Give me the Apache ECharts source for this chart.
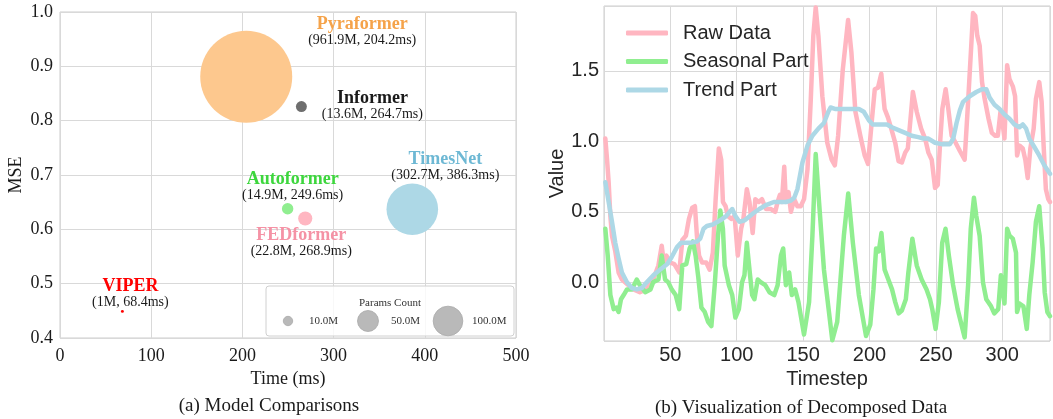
<!DOCTYPE html>
<html><head><meta charset="utf-8">
<script src="https://cdn.jsdelivr.net/npm/echarts@6/dist/echarts.min.js"></script>
<style>html,body{margin:0;padding:0;background:#fff}#c{width:1053px;height:419px}</style>
</head><body><div id="c"></div>
<script>
// ---------- Left panel data ----------
const models   = ['Pyraformer','Informer','TimesNet','Autoformer','FEDformer','VIPER'];
const timeMs   = [204.2, 264.7, 386.3, 249.6, 268.9, 68.4];
const mseVals  = [0.881, 0.826, 0.637, 0.638, 0.620, 0.449];
const paramsM  = [961.9, 13.6, 302.7, 14.9, 22.8, 1];
const legendParams = [10, 50, 100];
const xTicksLeft = [0, 100, 200, 300, 400, 500];

// ---------- Right panel data ([timestep, value]) ----------
const rawData = [[1,1.02],[2.3,0.87],[3.5,0.71],[4.8,0.47],[6,0.33],[8.5,0.22],[11,0.07],[13.5,0.02],[18.5,-0.02],[22.3,-0.05],[27,-0.07],[32,-0.05],[37,0.02],[41,0.12],[43.5,0.26],[45,0.14],[47,0.19],[50,0.14],[53,0.13],[56.7,0.07],[59,0.30],[61.7,0.33],[64,0.45],[66.5,0.53],[68.5,0.54],[70,0.33],[71.6,0.19],[74,0.14],[77,0.14],[79.6,0.09],[82,0.21],[84,0.57],[86.5,0.95],[88.3,0.87],[89.6,0.57],[91.6,0.54],[93.3,0.47],[95.8,0.45],[98.4,0.47],[100.8,0.19],[103.3,0.38],[105,0.45],[107.6,0.66],[109.6,0.57],[112,0.35],[114,0.59],[116.6,0.57],[119,0.59],[122,0.52],[125.8,0.52],[129,0.50],[130.8,0.57],[132.5,0.62],[134,0.57],[135.8,0.82],[137,0.57],[139,0.64],[140.8,0.50],[143.3,0.59],[145.7,0.54],[148.2,0.54],[150.7,0.59],[153.3,0.80],[155.7,1.28],[157.7,1.75],[159.5,1.95],[161.5,1.75],[164.5,1.32],[168.2,0.99],[171.5,0.87],[173.9,0.83],[176.4,1.04],[179.9,1.51],[183.9,1.86],[186.4,1.63],[189.4,1.21],[193.1,1.04],[196.4,0.90],[198.9,0.84],[201.9,1.16],[204,1.37],[206.4,1.38],[208.9,1.48],[211.4,1.23],[213.9,1.17],[216.4,1.09],[219.4,0.99],[221.9,0.86],[224.4,0.85],[226.9,0.92],[228.9,0.95],[231.4,1.21],[232.7,1.35],[235.6,1.21],[238.9,1.09],[241.9,1.02],[244.4,0.92],[246.9,0.87],[249.4,0.67],[251.4,0.69],[253.2,0.99],[254.9,1.23],[257.4,1.37],[259.4,1.23],[261.9,1.04],[264.9,0.99],[268.2,0.93],[271.7,0.87],[274.3,1.28],[276.8,1.70],[278,1.91],[279.7,1.89],[281.2,1.75],[283,1.68],[284.8,1.42],[286.8,1.30],[289.7,1.16],[292.2,1.06],[294.7,1.04],[296.7,1.04],[298.7,1.21],[300.5,1.11],[301.7,1.02],[303.7,1.54],[305.5,1.44],[308,1.39],[309.7,1.32],[311.2,0.90],[313,0.97],[315.5,0.95],[317.4,0.87],[319.2,0.74],[321.2,0.95],[323.7,1.09],[325.4,1.30],[327.9,1.42],[329.7,1.28],[331.2,0.97],[332.9,0.66],[334.7,0.59],[336,0.57]];
const seasonalData = [[1,0.38],[2.8,0.19],[4.8,-0.09],[7.3,-0.19],[9.3,-0.18],[11,-0.21],[12.8,-0.12],[14.8,-0.09],[17.3,-0.05],[21,-0.05],[24.7,0.02],[27,-0.02],[31,-0.07],[35,-0.05],[37,0.0],[41,0.02],[43.5,0.19],[46,0.02],[48.5,0.0],[51,-0.05],[54,-0.09],[56.7,-0.19],[59,0.12],[62,0.13],[64.5,0.24],[67,0.29],[69,0.19],[71,0.04],[73.4,-0.18],[75.9,-0.21],[78.4,-0.28],[80.9,-0.31],[83.4,-0.02],[85.9,0.33],[87.6,0.51],[89.6,0.38],[90.9,0.12],[94.1,-0.02],[96.6,-0.09],[99,-0.25],[101.6,-0.19],[104,0.0],[105.8,0.05],[107.6,0.28],[109.6,0.09],[111.6,-0.09],[113.3,-0.12],[115.8,0.02],[118.3,0.0],[121.5,-0.02],[124.6,-0.07],[128.3,-0.09],[130.8,-0.02],[133.3,0.19],[135,0.24],[137,-0.02],[139.5,0.07],[141.5,-0.09],[144,-0.05],[146.5,-0.14],[150.7,-0.37],[154.5,-0.14],[157,0.33],[159.5,0.91],[162,0.57],[165.7,0.09],[172,-0.41],[175.7,-0.28],[180.7,0.33],[184,0.63],[187.5,0.28],[192,-0.09],[197.4,-0.38],[200.6,-0.30],[203,-0.05],[205,0.24],[207,0.22],[209,0.35],[211.4,0.09],[213,0.05],[217,-0.05],[219.4,-0.14],[222,-0.22],[224.4,-0.20],[227.4,-0.12],[229.3,0.07],[232.3,0.31],[235.6,0.12],[239.3,0.02],[243,-0.05],[245.6,-0.12],[247.3,-0.19],[249.8,-0.33],[252.3,-0.14],[254.8,0.28],[257.3,0.38],[259.8,0.19],[263,-0.02],[266.4,-0.19],[269.3,-0.30],[271.7,-0.39],[274.3,-0.02],[276.3,0.38],[278.7,0.60],[280.5,0.47],[283,0.33],[285.5,0.0],[288,-0.12],[291.6,-0.17],[294,-0.22],[297,-0.19],[299,0.05],[300.5,0.06],[301.7,-0.15],[303.7,0.38],[305.5,0.33],[308,0.31],[310.4,0.21],[311.2,-0.21],[313,-0.15],[316,-0.17],[318.5,-0.33],[320.4,-0.09],[322.9,0.14],[325.4,0.43],[327.9,0.54],[330.4,0.24],[332,-0.07],[334,-0.21],[336,-0.24]];
const trendData = [[1,0.71],[3.5,0.57],[6,0.43],[8.5,0.28],[11,0.17],[13.5,0.07],[17.3,0.0],[21,-0.04],[24.7,-0.05],[28.5,-0.04],[32.2,0.0],[37.2,0.05],[42.2,0.09],[47.7,0.13],[51,0.18],[55,0.25],[58,0.28],[64.7,0.28],[70,0.29],[72.5,0.31],[75,0.38],[77.5,0.40],[82,0.41],[87.6,0.44],[92,0.47],[96.6,0.52],[99,0.47],[102,0.43],[106,0.44],[112.5,0.49],[117,0.52],[122.4,0.55],[128,0.57],[132,0.57],[137,0.57],[140.8,0.58],[143.3,0.60],[145.7,0.66],[149.5,0.85],[153.3,0.97],[157,1.04],[161.5,1.09],[165.7,1.13],[169,1.21],[170.7,1.24],[174,1.23],[179.4,1.23],[185.7,1.23],[192,1.23],[195.7,1.21],[199.5,1.15],[202.4,1.12],[206.9,1.12],[213.1,1.12],[216.9,1.10],[221.9,1.08],[226.9,1.06],[231.8,1.04],[236.8,1.03],[240.6,1.02],[244.4,1.02],[249.4,0.99],[254.4,0.98],[260.6,0.98],[263.1,1.02],[265.6,1.13],[268.1,1.22],[270.5,1.28],[275.5,1.32],[280.5,1.35],[284.8,1.37],[288,1.37],[290.5,1.31],[294.2,1.26],[298,1.23],[301.7,1.19],[305.5,1.16],[309.2,1.12],[313,1.10],[315.5,1.12],[318,1.09],[320.4,1.02],[324.2,0.96],[327.9,0.90],[331.7,0.83],[336,0.77]];
const seriesNames = ['Raw Data','Seasonal Part','Trend Part'];

// ---------- styles ----------
const bubbleColors = ['#FDC88E','#6E6E6E','#ADD8E6','#90EE90','#FFB6C1','#FF0000'];
const nameColors   = ['#F5A34A','#1a1a1a','#6DB8D4','#3DD63D','#F592A5','#FF0000'];
const labelOffsets = [[116,-45],[71,-1],[33,-42],[5,-22],[-4,24],[8,-18]];
const lineColors = ['#FFB6C1','#90EE90','#ADD8E6'];
const SERIF = 'Liberation Serif';
const SANS = 'Liberation Sans';
const GRIDC = '#d9d9d9';
const sizeOf = p => 2.966 * Math.sqrt(p);

const chart = echarts.init(document.getElementById('c'), null, {renderer:'canvas'});

const scatterData = models.map((m,i)=>({
  name: m,
  value: [timeMs[i], mseVals[i], paramsM[i]],
  itemStyle: {color: bubbleColors[i], opacity: 1},
  label: {
    show: true, position: 'inside', offset: labelOffsets[i], align: 'center',
    formatter: '{n|' + m + '}\n{s|(' + paramsM[i] + 'M, ' + timeMs[i] + 'ms)}',
    rich: {
      n: {fontFamily: SERIF, fontWeight: 'bold', fontSize: 18, color: nameColors[i], lineHeight: 17, align:'center'},
      s: {fontFamily: SERIF, fontSize: 14, color: '#1a1a1a', lineHeight: 15, align:'center'}
    }
  }
}));

// size legend graphics
const boxX = 266, boxY = 286, boxW = 248, boxH = 50;
const legCx = [288, 368, 448];
const legTx = [309, 391, 472];
const legendGraphics = [
  {type:'rect', shape:{x:boxX, y:boxY, width:boxW, height:boxH, r:3}, style:{fill:'rgba(255,255,255,0.8)', stroke:'#d0d0d0', lineWidth:1}, z:10},
  {type:'text', x: 390, y: 303, style:{text:'Params Count', font:'11px "' + SERIF + '"', fill:'#333', align:'center', verticalAlign:'middle'}, z:11}
];
legendParams.forEach((p,i)=>{
  legendGraphics.push({type:'circle', shape:{cx:legCx[i], cy:321, r:sizeOf(p)/2}, style:{fill:'#b9b9b9', stroke:'#aaaaaa', lineWidth:0.8}, z:11});
  legendGraphics.push({type:'text', x: legTx[i], y: 321, style:{text: p.toFixed(1)+'M', font:'11px "' + SERIF + '"', fill:'#333', align:'left', verticalAlign:'middle'}, z:11});
});

const option = {
  animation: false,
  backgroundColor: '#fff',
  grid: [
    {left: 60, top: 12, width: 456, height: 326, show: true, borderColor: '#cccccc', borderWidth: 1, containLabel: false},
    {left: 604, top: 6, right: -1, height: 335, show: true, borderColor: '#cccccc', borderWidth: 1, containLabel: false}
  ],
  xAxis: [
    {gridIndex: 0, type: 'value', min: 0, max: 500, interval: 100,
     name: 'Time (ms)', nameLocation: 'middle', nameGap: 28,
     nameTextStyle: {fontFamily: SERIF, fontSize: 18, color: '#1a1a1a'},
     axisLine: {show: false}, axisTick: {show: false},
     axisLabel: {fontFamily: SERIF, fontSize: 18, color: '#1a1a1a', margin: 9},
     splitLine: {show: true, lineStyle: {color: GRIDC, width: 1}}},
    {gridIndex: 1, type: 'value', min: 0, max: 336, interval: 50,
     name: 'Timestep', nameLocation: 'middle', nameGap: 26,
     nameTextStyle: {fontFamily: SANS, fontSize: 20, color: '#262626'},
     axisLine: {show: false}, axisTick: {show: false},
     axisLabel: {fontFamily: SANS, fontSize: 20, color: '#262626', margin: 4,
       formatter: v => (v > 0 && v % 50 === 0) ? String(v) : ''},
     splitLine: {show: true, lineStyle: {color: GRIDC, width: 1}}}
  ],
  yAxis: [
    {gridIndex: 0, type: 'value', min: 0.4, max: 1.0, interval: 0.1,
     name: 'MSE', nameLocation: 'middle', nameGap: 35, nameRotate: 90,
     nameTextStyle: {fontFamily: SERIF, fontSize: 18, color: '#1a1a1a'},
     axisLine: {show: false}, axisTick: {show: false},
     axisLabel: {fontFamily: SERIF, fontSize: 18, color: '#1a1a1a', margin: 7, formatter: v => v.toFixed(1)},
     splitLine: {show: true, lineStyle: {color: GRIDC, width: 1}}},
    {gridIndex: 1, type: 'value', min: -0.416, max: 1.96, splitNumber: 5,
     name: 'Value', nameLocation: 'middle', nameGap: 37, nameRotate: 90,
     nameTextStyle: {fontFamily: SANS, fontSize: 20, color: '#262626'},
     axisLine: {show: false}, axisTick: {show: false},
     axisLabel: {fontFamily: SANS, fontSize: 20, color: '#262626', margin: 5,
       formatter: v => (Math.abs(v*2 - Math.round(v*2)) < 1e-6) ? v.toFixed(1) : ''},
     splitLine: {show: true, lineStyle: {color: GRIDC, width: 1}}}
  ],
  legend: {
    data: seriesNames, orient: 'vertical', left: 621, top: 18,
    icon: 'roundRect', itemWidth: 42, itemHeight: 5, itemGap: 8.5,
    textStyle: {fontFamily: SANS, fontSize: 20, color: '#262626', lineHeight: 20, padding: [0,0,0,10]}
  },
  series: [
    {type: 'scatter', xAxisIndex: 0, yAxisIndex: 0, data: scatterData,
     symbolSize: v => sizeOf(v[2]), z: 3},
    ...seriesNames.map((n,i)=>({
      name: n, type: 'line', xAxisIndex: 1, yAxisIndex: 1,
      data: [rawData, seasonalData, trendData][i],
      showSymbol: false, symbol: 'none', color: lineColors[i],
      lineStyle: {width: 4.5, color: lineColors[i], cap: 'round', join: 'round'},
      clip: true, z: 3 + i
    }))
  ],
  graphic: [
    ...legendGraphics,
    {type:'text', x: 269, y: 406, style:{text:'(a) Model Comparisons', font:'19px "' + SERIF + '"', fill:'#1a1a1a', align:'center', verticalAlign:'middle'}},
    {type:'text', x: 801, y: 408, style:{text:'(b) Visualization of Decomposed Data', font:'19px "' + SERIF + '"', fill:'#1a1a1a', align:'center', verticalAlign:'middle'}}
  ]
};
chart.setOption(option);
</script>
</body></html>
